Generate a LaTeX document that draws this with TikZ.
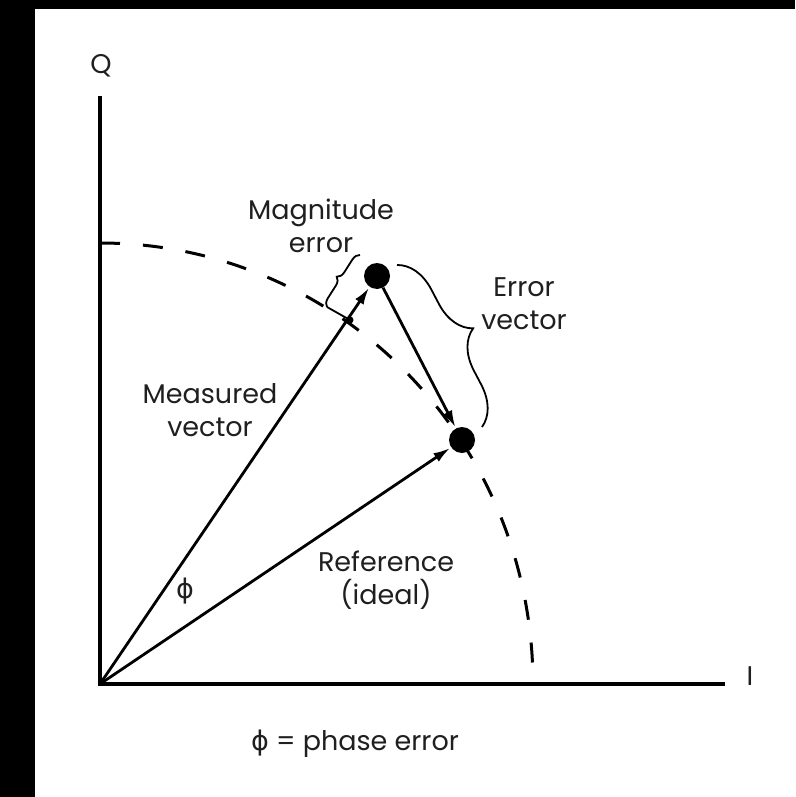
\documentclass[tikz,border=0pt]{standalone}
\usepackage{fontspec}
\setmainfont{Poppins}
\newfontfamily\phifont{DejaVu Sans}
\usetikzlibrary{arrows.meta,decorations.pathreplacing}
\begin{document}
\begin{tikzpicture}[x=1pt,y=-1pt,
  lbl/.style={font=\fontsize{27}{33}\selectfont, align=center, inner sep=0pt, text=black!88},
  axisline/.style={line width=4pt, black},
  vec/.style={line width=2.8pt, black, -{Latex[length=17pt,width=10pt]}, shorten >=1pt},
  dot/.style={circle, fill=black, minimum size=26pt, inner sep=0pt},
  bracepath/.style={line width=1.8pt, black, decorate},
  circdash/.style={line width=3pt, black, dash pattern=on 20pt off 23pt}
]
\useasboundingbox (0,0) rectangle (795,797);
\fill[black] (0,0) rectangle (795,797);
\fill[white] (35,9) rectangle (795,797);

% axes
\coordinate (O) at (100,684);
\coordinate (Qtop) at (100,96);
\coordinate (Iend) at (725,684);
\draw[axisline] (Qtop) -- (O) -- (Iend);
\node[lbl] (Q) at (101,66) {Q};
\node[lbl] (I) at (750,676) {I};

% dashed reference circle
\coordinate (Ctop) at (100,243);
\draw[circdash] (Ctop) arc[start angle=90, end angle=1.6, x radius=433pt, y radius=441pt];

% points
\node[dot] (M) at (377,276) {};
\node[dot] (R) at (462,440) {};
\coordinate (C) at (350,320);
\fill (C) circle[radius=3.5pt];

% vectors
\draw[vec] (O) -- (M);
\draw[vec] (O) -- (R);
\draw[vec] (M) -- (R);

% braces
\coordinate (mb1) at (327,307);
\coordinate (mb2) at (360,255);
\draw[bracepath, decoration={brace, amplitude=8pt}] (mb1) -- (mb2);
\draw[line width=1.8pt] (mb1) -- (C);
\coordinate (eb1) at (397,265);
\coordinate (eb2) at (482,427);
\draw[bracepath, decoration={brace, amplitude=38pt, aspect=0.5}] (eb1) -- (eb2);

% labels
\node[lbl] (magerr) at (321,226) {Magnitude\\error};
\node[lbl] (errvec) at (524,304) {Error\\vector};
\node[lbl] (measvec) at (210,410) {Measured\\vector};
\node[lbl] (refideal) at (386,580) {Reference\\(ideal)};
\node[lbl] (phi) at (185,591) {{\phifont ϕ}};
\node[lbl] (legend) at (355,744) {{\phifont ϕ} = phase error};
\end{tikzpicture}
\end{document}
